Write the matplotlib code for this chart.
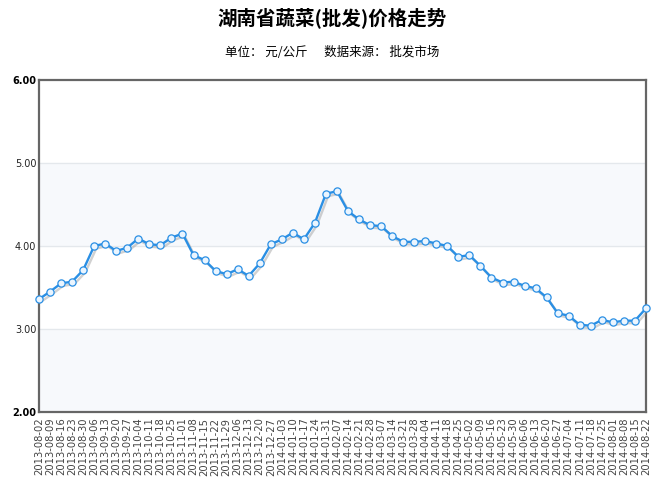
import matplotlib
matplotlib.use('Agg')
import matplotlib.pyplot as plt
import matplotlib.patheffects as pe
import pandas as pd

plt.rcParams['font.family'] = ['DejaVu Sans', 'Noto Sans CJK SC']

title = '湖南省蔬菜(批发)价格走势'
subtitle = '单位： 元/公斤      数据来源： 批发市场'

dates = [d.strftime('%Y-%m-%d') for d in pd.date_range('2013-08-02', '2014-08-22', freq='7D')]
prices = [3.36, 3.45, 3.55, 3.57, 3.71, 4.00, 4.03, 3.94, 3.98, 4.09,
          4.02, 4.01, 4.10, 4.15, 3.89, 3.83, 3.70, 3.66, 3.72, 3.64,
          3.79, 4.02, 4.08, 4.16, 4.08, 4.28, 4.63, 4.66, 4.42, 4.32,
          4.25, 4.24, 4.12, 4.05, 4.05, 4.06, 4.03, 4.00, 3.87, 3.89,
          3.76, 3.62, 3.56, 3.57, 3.52, 3.49, 3.38, 3.19, 3.16, 3.05,
          3.04, 3.11, 3.08, 3.10, 3.10, 3.25]
yticks = [2, 3, 4, 5, 6]

W, H = 664, 482
fig = plt.figure(figsize=(W / 100, H / 100), dpi=100)
ax = fig.add_axes([39 / W, (H - 412) / H, (646 - 39) / W, (412 - 80) / H])

x = list(range(len(prices)))

# alternating bands + grid
ax.axhspan(4, 5, color='#f7f9fc', zorder=0)
ax.axhspan(2, 3, color='#f7f9fc', zorder=0)
for y in [3, 4, 5]:
    ax.axhline(y, color='#e4e8ec', lw=0.9, zorder=1)

line, = ax.plot(x, prices, color='#2a8fe4', lw=1.7, zorder=3, solid_joinstyle='round')
line.set_path_effects([pe.SimpleLineShadow(offset=(1.5, -1.8), shadow_color='#999999', alpha=0.45),
                       pe.Normal()])
ax.plot(x, prices, 'o', ms=5.2, mfc='#eaf5ff', mec='#2a8fe4', mew=0.9, zorder=4, clip_on=False)

ax.set_xlim(0, len(prices) - 1)
ax.set_ylim(2, 6)
ax.set_yticks(yticks)
ax.set_yticklabels(['%.2f' % v for v in yticks], fontsize=7, color='#222222')
for lab in (ax.get_yticklabels()[0], ax.get_yticklabels()[-1]):
    lab.set_fontweight('bold')
    lab.set_color('black')
ax.set_xticks(x)
ax.set_xticklabels(dates, rotation=90, fontsize=7.2, color='#444444')
ax.tick_params(axis='both', length=0)
ax.tick_params(axis='y', pad=2)
ax.tick_params(axis='x', pad=4)

for s in ax.spines.values():
    s.set_color('#666666')
    s.set_linewidth(1.6)

fig.text(0.5, 1 - 18 / H, title, ha='center', va='center', fontsize=14,
         fontweight='bold', family=['Noto Sans CJK SC', 'DejaVu Sans'])
fig.text(0.5, 1 - 52 / H, subtitle, ha='center', va='center', fontsize=9,
         family=['Noto Sans CJK SC', 'DejaVu Sans'])

fig.savefig('out.png', dpi=100)
